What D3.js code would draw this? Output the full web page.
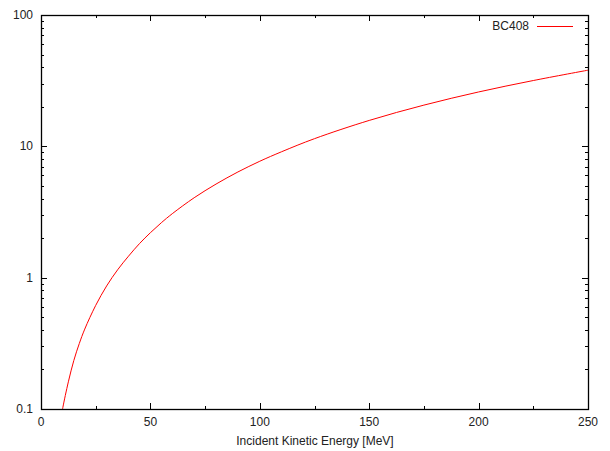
<!DOCTYPE html>
<html><head><meta charset="utf-8">
<script src="https://cdn.jsdelivr.net/npm/d3@7/dist/d3.min.js"></script>
<style>body{margin:0;background:#fff}svg{display:block}text{font-family:"Liberation Sans",Arial,sans-serif;font-size:12px;fill:#222}</style>
</head><body><svg id="c" width="610" height="451"></svg>
<script>
const energy = [9.5,10,12.5,15,17.5,20,25,30,35,40,45,50,55,60,70,80,90,100,110,125,150,175,200,225,250];
const range  = [0.092,0.103,0.161,0.234,0.315,0.406,0.615,0.865,1.147,1.458,1.816,2.20,2.62,3.07,4.06,5.16,6.38,7.70,9.10,11.44,15.75,20.6,25.94,31.7,38.0];
const xTicks = [0,50,100,150,200,250];
const xMinor = [25,75,125,175,225];
const yTicks = [0.1,1,10,100];
const yTickLabels = ["0.1","1","10","100"];
const seriesName = "BC408";
const xTitle = "Incident Kinetic Energy [MeV]";

const L=41,R=588,T=15,B=409;
const svg=d3.select("#c");
const x=d3.scaleLinear().domain([0,250]).range([L,R]);
const y=d3.scaleLog().domain([0.1,100]).range([B,T]);

const yMinor=[];
for(let d=0.1; d<100; d*=10){for(let k=2;k<=9;k++) yMinor.push(+(d*k).toPrecision(3));}

const g=svg.append("g").attr("stroke","#000").attr("stroke-width",1);
function tick(x1,y1,x2,y2){g.append("line").attr("x1",x1).attr("y1",y1).attr("x2",x2).attr("y2",y2);}
xTicks.forEach(v=>{const p=Math.round(x(v))+0.5;tick(p,B,p,B-6);tick(p,T,p,T+6);});
xMinor.forEach(v=>{const p=Math.round(x(v))+0.5;tick(p,B,p,B-3);tick(p,T,p,T+3);});
yTicks.forEach(v=>{const p=Math.round(y(v))+0.5;tick(L,p,L+6,p);tick(R,p,R-6,p);});
yMinor.forEach(v=>{const p=Math.round(y(v))+0.5;tick(L,p,L+3,p);tick(R,p,R-3,p);});

// curve
svg.append("clipPath").attr("id","cp").append("rect").attr("x",L).attr("y",T).attr("width",R-L).attr("height",B-T);
const data=energy.map((e,i)=>[e,range[i]]);
svg.append("path").datum(data).attr("clip-path","url(#cp)")
  .attr("fill","none").attr("stroke","#ff0000").attr("stroke-width",1)
  .attr("d",d3.line().x(d=>x(d[0])).y(d=>y(d[1])).curve(d3.curveCatmullRom.alpha(0.5)));

// frame
svg.append("rect").attr("x",L+0.5).attr("y",T+0.5).attr("width",R-L).attr("height",B-T)
  .attr("fill","none").attr("stroke","#000").attr("stroke-width",1.3);

// labels
xTicks.forEach(v=>svg.append("text").attr("x",x(v)).attr("y",426).attr("text-anchor","middle").text(v));
yTicks.forEach((v,i)=>svg.append("text").attr("x",33).attr("y",y(v)+4).attr("text-anchor","end").text(yTickLabels[i]));
svg.append("text").attr("x",315).attr("y",445).attr("text-anchor","middle").text(xTitle);

// legend
svg.append("text").attr("x",529).attr("y",30).attr("text-anchor","end").text(seriesName);
svg.append("line").attr("x1",537).attr("x2",573).attr("y1",26.5).attr("y2",26.5).attr("stroke","#ff0000").attr("stroke-width",1);
</script></body></html>
